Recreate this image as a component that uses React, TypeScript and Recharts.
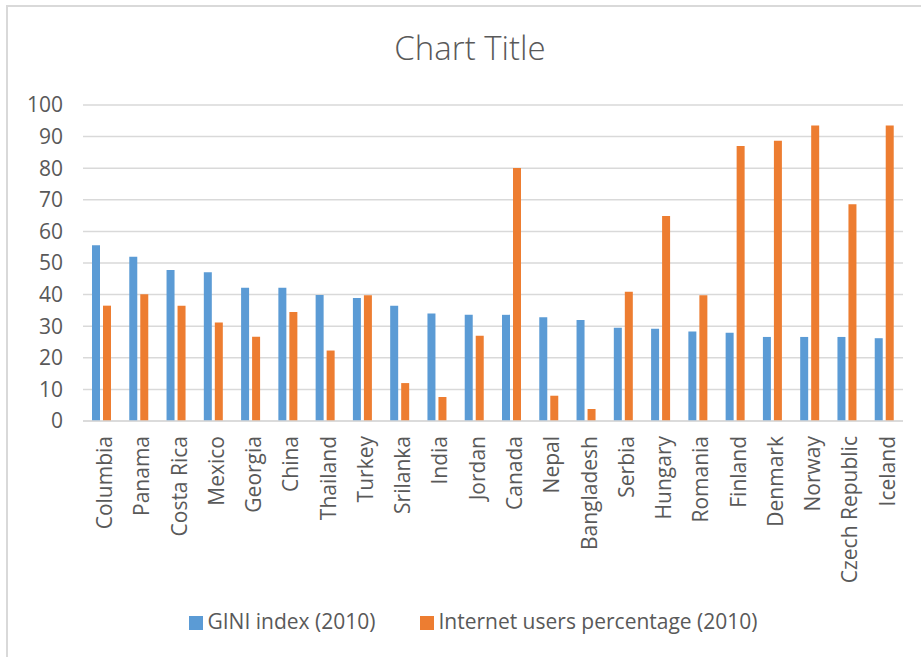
import React from 'react';
import { BarChart, Bar, XAxis, YAxis, CartesianGrid, Legend } from 'recharts';

const countries = ['Columbia', 'Panama', 'Costa Rica', 'Mexico', 'Georgia', 'China', 'Thailand', 'Turkey', 'Srilanka', 'India', 'Jordan', 'Canada', 'Nepal', 'Bangladesh', 'Serbia', 'Hungary', 'Romania', 'Finland', 'Denmark', 'Norway', 'Czech Republic', 'Iceland'];
const gini = [55.6, 52.0, 47.8, 47.1, 42.2, 42.2, 39.9, 38.9, 36.5, 34.0, 33.6, 33.6, 32.8, 32.0, 29.5, 29.2, 28.3, 27.9, 26.6, 26.6, 26.6, 26.2];
const internet = [36.5, 40.1, 36.5, 31.2, 26.7, 34.5, 22.3, 39.8, 12.0, 7.6, 27.0, 80.1, 8.0, 3.8, 40.9, 64.9, 39.8, 87.0, 88.7, 93.5, 68.6, 93.5];
const yTicks = [0, 10, 20, 30, 40, 50, 60, 70, 80, 90, 100];

const data = countries.map((c, i) => ({ country: c, gini: gini[i], internet: internet[i] }));

const FONT = '"Open Sans", sans-serif';
const TEXT = '#595959';

const XTick = (props: any) => {
  const { x, y, payload } = props;
  const tx = x + 3;
  const ty = y + 15;
  return (
    <text
      x={tx}
      y={ty}
      dy="0.35em"
      textAnchor="end"
      transform={`rotate(-90, ${tx}, ${ty})`}
      fill={TEXT}
      fontSize={21}
      fontFamily={FONT}
    >
      {payload.value}
    </text>
  );
};

export default function App() {
  return (
    <div style={{ position: 'absolute', left: 0, top: 0, width: 921, height: 657, background: '#fff', overflow: 'hidden' }}>
      <div style={{ position: 'absolute', left: 6, top: 5, width: 930, height: 670, borderTop: '2px solid #d9d9d9', borderLeft: '2px solid #d9d9d9' }} />
      <div style={{ position: 'absolute', left: 0, top: 25, width: 940, textAlign: 'center', fontFamily: FONT, fontSize: 33, fontWeight: 300, color: TEXT }}>
        Chart Title
      </div>
      <div style={{ position: 'absolute', left: 0, top: 0 }}>
        <BarChart width={921} height={657} data={data} margin={{ top: 105, right: 18, bottom: 22, left: 0 }} barSize={8} barGap={3}>
          <CartesianGrid vertical={false} stroke="#d9d9d9" strokeWidth={1.5} />
          <XAxis dataKey="country" interval={0} tick={<XTick />} tickLine={false} tickSize={0} tickMargin={0} height={186} axisLine={{ stroke: '#d9d9d9', strokeWidth: 1.5 }} />
          <YAxis domain={[0, 100]} ticks={yTicks} interval={0} axisLine={false} tickLine={false} tickSize={0} tickMargin={20} width={83} tick={{ fill: TEXT, fontSize: 21, fontFamily: FONT }} />
          <Legend
            verticalAlign="bottom"
            iconType="square"
            iconSize={14}
            wrapperStyle={{ fontFamily: FONT, fontSize: 21, color: TEXT, lineHeight: '28px', left: 27 }}
            formatter={(v: string, _e: any, i: number) => <span style={{ color: TEXT, marginRight: i === 0 ? 35 : 0 }}>{v}</span>}
          />
          <Bar dataKey="gini" name="GINI index (2010)" fill="#5B9BD5" isAnimationActive={false} />
          <Bar dataKey="internet" name="Internet users percentage (2010)" fill="#ED7D31" isAnimationActive={false} />
        </BarChart>
      </div>
    </div>
  );
}
